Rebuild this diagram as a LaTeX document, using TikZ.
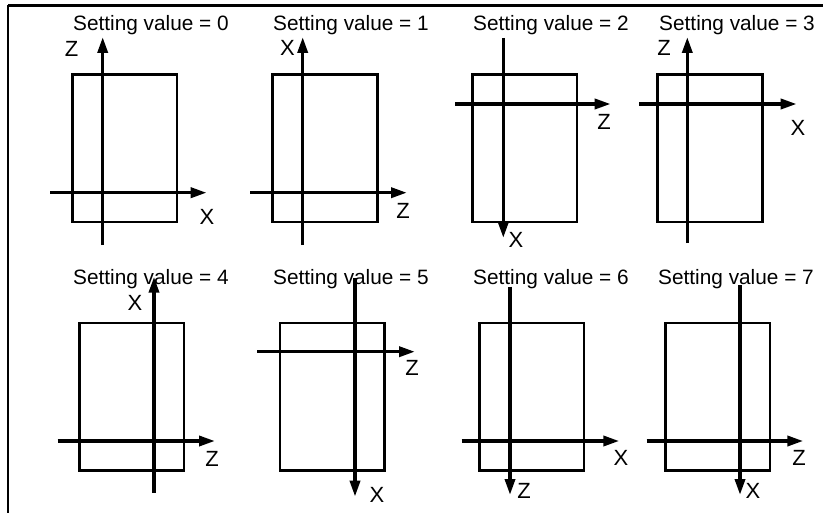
\documentclass[tikz,border=0pt]{standalone}
\usepackage{fontspec}
\setmainfont{Liberation Sans}
\usetikzlibrary{arrows.meta}

\begin{document}
\begin{tikzpicture}[
  x=0.5pt, y=-0.5pt,
  >={Triangle[length=8pt, width=5pt]},
  title/.style={font=\fontsize{10.4}{12}\selectfont, inner sep=0pt, anchor=base},
  axlbl/.style={font=\fontsize{11}{13}\selectfont, inner sep=0pt},
  plate/.style={draw, line width=1.3pt, minimum width=52.3pt,
                minimum height=73.7pt, inner sep=0pt},
  axis/.style={->, line width=1.75pt}
]
\useasboundingbox (0,0) rectangle (823,513);

% ---------- Frame ----------
\coordinate (fBL) at (8,513);
\coordinate (fTL) at (8,5.5);
\coordinate (fTR) at (823,5.5);
\draw[line width=1.1pt] (fTL) -- (fTR);
\draw[line width=0.75pt] (fBL) -- (fTL);

% ---------- Setting value = 0 ----------
\node[title] (sv0) at (151,30.5) {Setting value = 0};
\node[plate] (pl0) at (124.7,148.3) {};
\coordinate (v0a) at (102.7,245); \coordinate (v0b) at (102.7,37);
\coordinate (h0a) at (50,192.7);  \coordinate (h0b) at (206.7,192.7);
\draw[axis] (v0a) -- (v0b);
\draw[axis] (h0a) -- (h0b);
\node[axlbl] (lv0) at (71.7,49) {Z};
\node[axlbl] (lh0) at (207,217) {X};

% ---------- Setting value = 1 ----------
\node[title] (sv1) at (351,30.5) {Setting value = 1};
\node[plate] (pl1) at (325,148.3) {};
\coordinate (v1a) at (302.7,245); \coordinate (v1b) at (302.7,37);
\coordinate (h1a) at (250,192.7); \coordinate (h1b) at (407,192.7);
\draw[axis] (v1a) -- (v1b);
\draw[axis] (h1a) -- (h1b);
\node[axlbl] (lv1) at (287.5,48) {X};
\node[axlbl] (lh1) at (403,211) {Z};

% ---------- Setting value = 2 ----------
\node[title] (sv2) at (551,30.5) {Setting value = 2};
\node[plate] (pl2) at (524.7,148.3) {};
\coordinate (v2a) at (503.3,38);  \coordinate (v2b) at (503.3,238);
\coordinate (h2a) at (455,104);   \coordinate (h2b) at (610.7,104);
\draw[axis] (v2a) -- (v2b);
\draw[axis] (h2a) -- (h2b);
\node[axlbl] (lv2) at (516,240) {X};
\node[axlbl] (lh2) at (604,122) {Z};

% ---------- Setting value = 3 ----------
\node[title] (sv3) at (737,30.5) {Setting value = 3};
\node[plate] (pl3) at (710,148.3) {};
\coordinate (v3a) at (687.3,243); \coordinate (v3b) at (687.3,37);
\coordinate (h3a) at (639,104);   \coordinate (h3b) at (796.7,104);
\draw[axis] (v3a) -- (v3b);
\draw[axis] (h3a) -- (h3b);
\node[axlbl] (lv3) at (664,48) {Z};
\node[axlbl] (lh3) at (798,128) {X};

% ---------- Setting value = 4 ----------
\node[title] (sv4) at (151,284.3) {Setting value = 4};
\node[plate] (pl4) at (131.8,396.7) {};
\coordinate (v4a) at (154,492.7); \coordinate (v4b) at (154,276.7);
\coordinate (h4a) at (57.7,441);  \coordinate (h4b) at (215,441);
\draw[axis] (v4a) -- (v4b);
\draw[axis] (h4a) -- (h4b);
\node[axlbl] (lv4) at (135,303) {X};
\node[axlbl] (lh4) at (212,459) {Z};

% ---------- Setting value = 5 ----------
\node[title] (sv5) at (351,284.3) {Setting value = 5};
\node[plate] (pl5) at (332.2,396.7) {};
\coordinate (v5a) at (355,278);   \coordinate (v5b) at (355,496.7);
\coordinate (h5a) at (257.3,351.7); \coordinate (h5b) at (415,351.7);
\draw[axis] (v5a) -- (v5b);
\draw[axis] (h5a) -- (h5b);
\node[axlbl] (lv5) at (377,495) {X};
\node[axlbl] (lh5) at (412,368) {Z};

% ---------- Setting value = 6 ----------
\node[title] (sv6) at (551,284.3) {Setting value = 6};
\node[plate] (pl6) at (531.8,396.7) {};
\coordinate (v6a) at (510,286.7); \coordinate (v6b) at (510,495);
\coordinate (h6a) at (461.7,441); \coordinate (h6b) at (619.3,441);
\draw[axis] (v6a) -- (v6b);
\draw[axis] (h6a) -- (h6b);
\node[axlbl] (lv6) at (524,491) {Z};
\node[axlbl] (lh6) at (621,458) {X};

% ---------- Setting value = 7 ----------
\node[title] (sv7) at (736,284.3) {Setting value = 7};
\node[plate] (pl7) at (717.5,396.7) {};
\coordinate (v7a) at (740,285);   \coordinate (v7b) at (740,495);
\coordinate (h7a) at (646.7,441); \coordinate (h7b) at (803.3,441);
\draw[axis] (v7a) -- (v7b);
\draw[axis] (h7a) -- (h7b);
\node[axlbl] (lv7) at (753,491) {X};
\node[axlbl] (lh7) at (799,458) {Z};

\end{tikzpicture}
\end{document}
